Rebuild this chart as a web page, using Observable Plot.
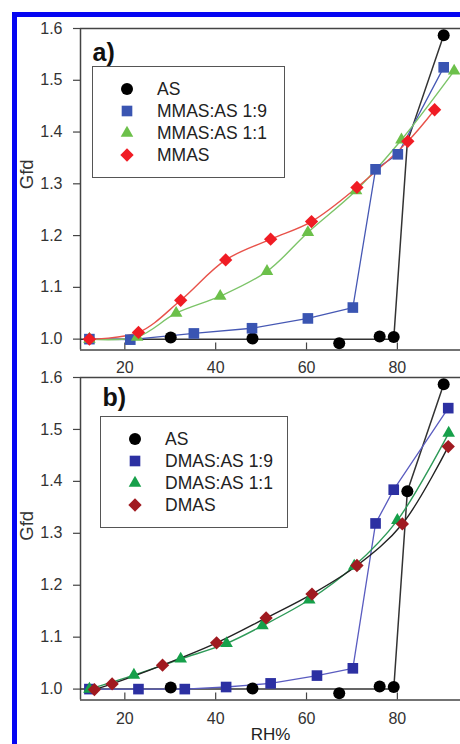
<!DOCTYPE html>
<html>
<head>
<meta charset="utf-8">
<script src="https://cdn.jsdelivr.net/npm/d3@7"></script>
<script src="https://cdn.jsdelivr.net/npm/@observablehq/plot@0.6"></script>
<style>
  html, body { margin: 0; padding: 0; background: #fff; }
  #root { position: relative; width: 460px; height: 744px; overflow: hidden; background: #fff;
          font-family: 'Liberation Sans', Arial, sans-serif; }
  .panel { position: absolute; left: 0; }
  .bord { position: absolute; left: 12px; top: 12px; width: 470px; height: 760px;
          border-top: 5px solid #0505f2; border-left: 5px solid #0505f2; pointer-events: none; z-index: 5; }
  .legend { position: absolute; border: 1.5px solid #555; background: #fff; box-sizing: border-box; z-index: 3; }
  .legend .txt { position: absolute; font-size: 17.5px; color: #222; line-height: 20px; white-space: nowrap; }
  .legend svg { position: absolute; overflow: visible; }
</style>
</head>
<body>
<div id="root">
  <div id="pa" class="panel" style="top:0px"></div>
  <div id="pb" class="panel" style="top:375px"></div>
  <div class="bord"></div>
</div>
<script>
// ---------- data ----------
const xTicks = [20, 40, 60, 80];
const yTicks = [1.0, 1.1, 1.2, 1.3, 1.4, 1.5, 1.6];

// AS markers, panel a (the point at 82 % RH is hidden behind the MMAS diamond)
const asAX = [30.1, 48.1, 67.2, 76.1, 79.2, 90.2];
const asAY = [1.003, 1.001, 0.992, 1.005, 1.004, 1.587];
// AS markers, panel b
const asBX = [30.1, 48.1, 67.2, 76.1, 79.2, 82.2, 90.2];
const asBY = [1.003, 1.001, 0.992, 1.005, 1.004, 1.381, 1.587];
// AS guide line
const asFitX = [10.3, 79.2, 82.2, 90.2];
const asFitY = [1.0, 1.0, 1.381, 1.587];

// panel a
const mm19X = [12.2, 21.2, 35.2, 48.0, 60.3, 70.2, 75.2, 80.1, 90.2];
const mm19Y = [1.0, 0.999, 1.011, 1.021, 1.040, 1.061, 1.328, 1.357, 1.525];
const mm11X = [12.2, 22.7, 31.3, 41.0, 51.3, 60.3, 70.9, 80.9, 92.5];
const mm11Y = [1.0, 1.004, 1.050, 1.083, 1.131, 1.206, 1.287, 1.385, 1.518];
const mmX = [12.2, 23.0, 32.3, 42.2, 52.1, 61.1, 71.1, 82.3, 88.2];
const mmY = [1.0, 1.013, 1.075, 1.153, 1.193, 1.227, 1.293, 1.382, 1.443];

// panel b
const dm19X = [12.2, 23.0, 33.2, 42.3, 52.1, 62.3, 70.2, 75.2, 79.2, 91.2];
const dm19Y = [1.0, 1.0, 1.0, 1.004, 1.011, 1.026, 1.040, 1.319, 1.384, 1.541];
const dm11X = [12.2, 22.0, 32.3, 42.4, 50.3, 60.6, 70.5, 80.0, 91.3];
const dm11Y = [1.0, 1.027, 1.058, 1.088, 1.122, 1.172, 1.237, 1.325, 1.493];
const dmX = [13.3, 17.2, 28.3, 40.2, 51.1, 61.2, 71.1, 81.1, 91.2];
const dmY = [0.999, 1.01, 1.046, 1.089, 1.137, 1.183, 1.238, 1.318, 1.467];

const legendA = ["AS", "MMAS:AS 1:9", "MMAS:AS 1:1", "MMAS"];
const legendB = ["AS", "DMAS:AS 1:9", "DMAS:AS 1:1", "DMAS"];

// ---------- helpers ----------
const pts = (xs, ys) => xs.map((x, i) => ({x, y: ys[i]}));
const xDomain = [10.24, 93.9];
const yDomain = [0.979, 1.6];
const FONT = "'Liberation Sans', Arial, sans-serif";
const frameColor = "#444";

function panel({height, marginTop, marginBottom, tag, tagDx, tagDy, series, labelDy, tickPadding, xLabel}) {
  const plotH = height - marginTop - marginBottom;
  const marks = [
    Plot.ruleY([yDomain[1]], {stroke: frameColor, strokeWidth: 1.5}),
    Plot.ruleY([yDomain[0]], {stroke: frameColor, strokeWidth: 1.5}),
    Plot.ruleX([xDomain[0]], {stroke: frameColor, strokeWidth: 1.5}),
    Plot.tickX(xTicks, {x: d => d, insetTop: plotH - 7, stroke: frameColor, strokeWidth: 1.2}),
    Plot.axisX(xTicks, {tickSize: 0, tickPadding, tickFormat: d => d, fontSize: 16, fill: "#333", label: null}),
    Plot.axisY(yTicks, {tickSize: 7, tickPadding: 11, tickFormat: d3.format(".1f"), fontSize: 16, fill: "#333", stroke: frameColor, strokeWidth: 1.2, label: null}),
    Plot.text(["Gfd"], {frameAnchor: "left", dx: -53, dy: labelDy, rotate: -90, fontSize: 18.5, fill: "#333", text: d => d}),
    Plot.text([tag], {frameAnchor: "top-left", dx: tagDx, dy: tagDy, lineAnchor: "top", textAnchor: "start", fontSize: 25, fontWeight: "bold", fill: "#111", text: d => d})
  ];
  if (xLabel) marks.push(Plot.text([xLabel], {frameAnchor: "bottom", dy: 35, lineAnchor: "middle", fontSize: 17, fill: "#222", text: d => d}));
  for (const s of series) {
    if (s.line) marks.push(Plot.line(s.line, {x: "x", y: "y", stroke: s.lineColor, strokeWidth: s.lineWidth || 1.4, curve: s.curve || "linear"}));
  }
  for (const s of series) {
    if (s.pts) marks.push(Plot.dot(s.pts, {x: "x", y: "y", symbol: s.symbol, r: 6, fill: s.fill, stroke: "none"}));
  }
  return Plot.plot({
    width: 460, height, marginTop, marginBottom, marginLeft: 80, marginRight: 0,
    x: {domain: xDomain},
    y: {domain: yDomain},
    style: {fontFamily: FONT, fontSize: "16px", color: "#333", background: "transparent", overflow: "visible"},
    marks
  });
}

const seriesA = [
  {line: pts(asFitX, asFitY), lineColor: "#333", lineWidth: 1.5},
  {line: pts(mm19X, mm19Y), lineColor: "#4658b4", lineWidth: 1.3},
  {line: pts(mm11X, mm11Y), lineColor: "#7cc468", lineWidth: 1.4, curve: "catmull-rom"},
  {line: pts(mmX, mmY), lineColor: "#e8524a", lineWidth: 1.4, curve: "catmull-rom"},
  {pts: pts(asAX, asAY), symbol: "circle", fill: "#000"},
  {pts: pts(mm19X, mm19Y), symbol: "square", fill: "#3a55b2"},
  {pts: pts(mm11X, mm11Y), symbol: "triangle2", fill: "#6cc04a"},
  {pts: pts(mmX, mmY), symbol: "diamond2", fill: "#f01c24"}
];
const seriesB = [
  {line: pts(asFitX, asFitY), lineColor: "#333", lineWidth: 1.5},
  {line: pts(dm19X, dm19Y), lineColor: "#5a5cc0", lineWidth: 1.3},
  {line: pts(dm11X, dm11Y), lineColor: "#2e9a58", lineWidth: 1.4, curve: "catmull-rom"},
  {line: pts(dmX, dmY), lineColor: "#222", lineWidth: 1.4, curve: "catmull-rom"},
  {pts: pts(asBX, asBY), symbol: "circle", fill: "#000"},
  {pts: pts(dm19X, dm19Y), symbol: "square", fill: "#2c30a2"},
  {pts: pts(dm11X, dm11Y), symbol: "triangle2", fill: "#16a04a"},
  {pts: pts(dmX, dmY), symbol: "diamond2", fill: "#a01a20"}
];

document.getElementById("pa").append(panel({
  height: 375, marginTop: 28, marginBottom: 25.5, tag: "a)", tagDx: 12, tagDy: 15,
  series: seriesA, labelDy: 0, tickPadding: 12
}));
document.getElementById("pb").append(panel({
  height: 369, marginTop: 2, marginBottom: 44.5, tag: "b)", tagDx: 22, tagDy: 11,
  series: seriesB, labelDy: 2, tickPadding: 13, xLabel: "RH%"
}));

// ---------- legends ----------
const symbolMap = {circle: d3.symbolCircle, square: d3.symbolSquare, triangle2: d3.symbolTriangle2, diamond2: d3.symbolDiamond2};
function legend({left, top, width, height, labels, symbols, fills}) {
  const box = document.createElement("div");
  box.className = "legend";
  Object.assign(box.style, {left: left + "px", top: top + "px", width: width + "px", height: height + "px"});
  labels.forEach((lab, i) => {
    const cy = 23 + i * 22.3;
    const svg = d3.create("svg").attr("width", 1).attr("height", 1)
      .style("left", "34px").style("top", (cy - 1.5) + "px");
    svg.append("path").attr("d", d3.symbol(symbolMap[symbols[i]], Math.PI * 36)()).attr("fill", fills[i]);
    box.append(svg.node());
    const t = document.createElement("div");
    t.className = "txt";
    t.textContent = lab;
    Object.assign(t.style, {left: "64px", top: (cy - 11.5) + "px"});
    box.append(t);
  });
  document.getElementById("root").append(box);
}
legend({left: 92, top: 66, width: 193, height: 112, labels: legendA,
  symbols: ["circle", "square", "triangle2", "diamond2"], fills: ["#000", "#3a55b2", "#6cc04a", "#f01c24"]});
legend({left: 100, top: 416, width: 188, height: 112, labels: legendB,
  symbols: ["circle", "square", "triangle2", "diamond2"], fills: ["#000", "#2c30a2", "#16a04a", "#a01a20"]});
</script>
</body>
</html>
